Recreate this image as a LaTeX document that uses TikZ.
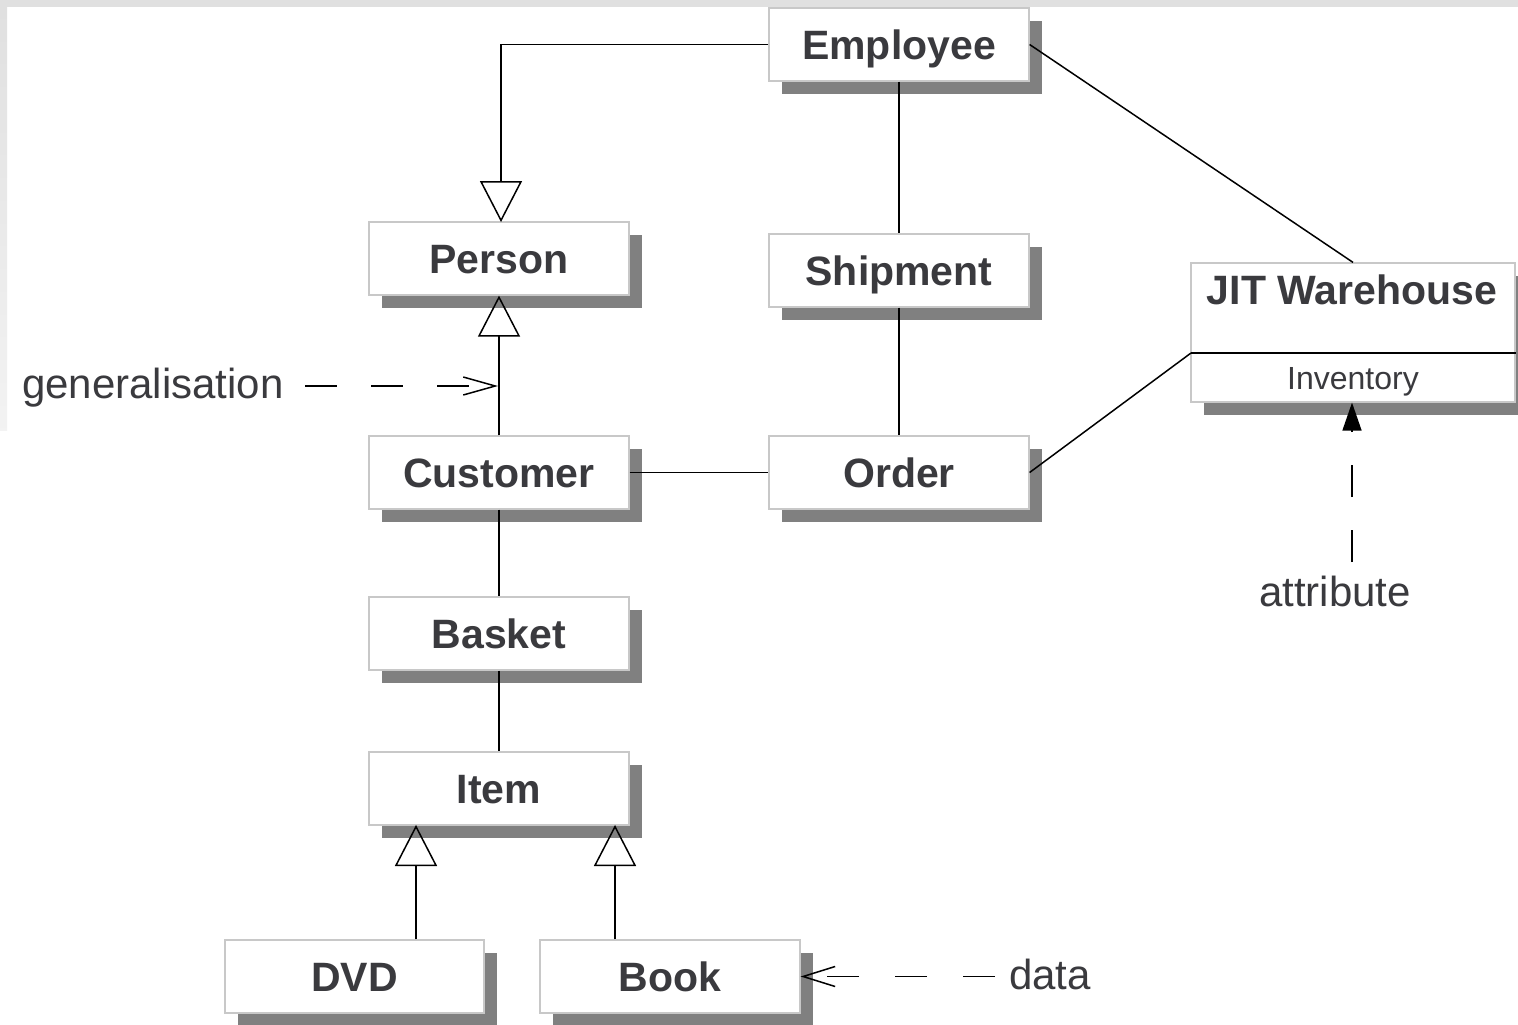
\documentclass[tikz,border=0pt]{standalone}
\usepackage{fontspec}
\setmainfont{Liberation Sans}
\usetikzlibrary{arrows.meta,shadows}
\definecolor{ink}{RGB}{58,58,62}
\definecolor{boxline}{RGB}{200,200,200}
\definecolor{shade}{RGB}{128,128,128}
\definecolor{rim}{RGB}{224,224,224}

\begin{document}
\begin{tikzpicture}[x=1pt,y=-1pt,
  title/.style={inner sep=0pt, font=\fontsize{41}{49}\selectfont\bfseries, text=ink,
    text height=29.5pt, text depth=0pt},
  cls/.style={title, draw=boxline, line width=1.2pt, fill=white,
    minimum width=260pt, minimum height=73pt,
    general shadow={shadow xshift=13pt, shadow yshift=-13pt, fill=shade}},
  wire/.style={line width=1.5pt, black},
  inherit/.style={wire, -{Triangle[open, length=41pt, width=42pt]}},
  note/.style={font=\fontsize{42}{50}\selectfont, text=ink, inner sep=0pt},
  hint/.style={line width=1.5pt, black, dash pattern=on 32pt off 34pt},
]
\useasboundingbox (0,0) rectangle (1518,1025);
\fill[white] (0,0) rectangle (1518,1025);
% window frame at the top and left edge
\fill[rim] (0,0) rectangle (1518,7);
\shade[top color=rim, bottom color=rim!40!white] (0,7) rectangle (7,430);

% classes
\node[cls] (employee) at (899,44.5) {Employee};
\node[cls] (person)   at (499,258.5) {Person};
\node[cls] (shipment) at (899,270.5) {Shipment};
\node[cls, minimum width=324pt, minimum height=139pt] (jit) at (1353,332.5) {};
\node[title] (jitname) at (1352,290) {JIT Warehouse};
\node[font=\fontsize{32}{38}\selectfont, text=ink, inner sep=0pt,
      text height=23pt, text depth=0pt] (inventory) at (1353,378) {Inventory};
\coordinate (jitdiv) at (1191,353);
\draw[wire] (jitdiv) -- (jitdiv -| jit.east);
\node[cls] (customer) at (499,472.5) {Customer};
\node[cls] (order)    at (899,472.5) {Order};
\node[cls] (basket)   at (499,633.5) {Basket};
\node[cls] (item)     at (499,788.5) {Item};
\node[cls, minimum width=259pt] (dvd) at (354.5,976.5) {DVD};
\node[cls] (book)     at (670,976.5) {Book};

% associations
\draw[wire] (employee.south) -- (shipment.north);
\draw[wire] (shipment.south) -- (order.north);
\draw[wire] (employee.east) -- (jit.north);
\draw[wire] (order.east) -- (jitdiv);
\draw[wire] (customer.east) -- (order.west);
\draw[wire] (customer.south) -- (basket.north);
\draw[wire] (basket.south) -- (item.north);

% generalisations
\coordinate (personTop) at (501,222);
\draw[inherit] (employee.west) -| (personTop);
\draw[inherit] (customer.north) -- (person.south);
\coordinate (itemL) at (416,825);
\coordinate (itemR) at (615,825);
\draw[inherit] (dvd.north -| itemL) -- (itemL);
\draw[inherit] (book.north -| itemR) -- (itemR);

% annotations
\node[note, anchor=base west] (genlabel) at (22,398) {generalisation};
\coordinate (genS) at (305,386);
\coordinate (genT) at (498,386);
\draw[hint, -{Straight Barb[length=32pt, width=18pt]}] (genS) -- (genT);

\node[note, anchor=base] (attrlabel) at (1335,606) {attribute};
\coordinate (attrS) at (1352,562);
\draw[hint, dash pattern=on 32pt off 33pt, -{Triangle[length=28pt, width=19pt]}] (attrS) -- (jit.south -| attrS);

\node[note, anchor=base west] (datalabel) at (1009,989) {data};
\coordinate (dataS) at (995,976.5);
\draw[hint, dash pattern=on 32pt off 36pt, -{Straight Barb[length=32pt, width=20pt]}] (dataS) -- (book.east);
\end{tikzpicture}
\end{document}
